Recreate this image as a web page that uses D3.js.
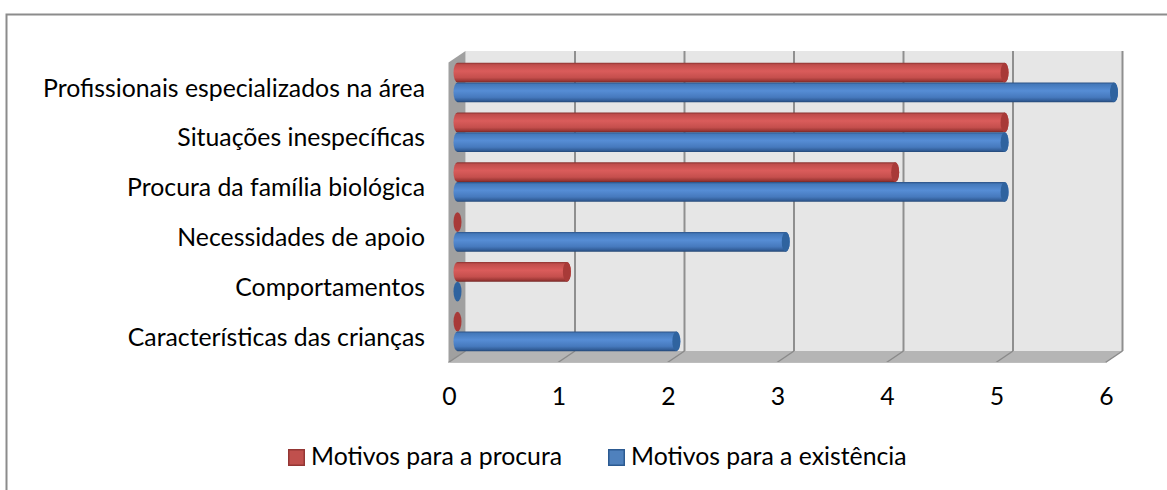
<!DOCTYPE html>
<html>
<head>
<meta charset="utf-8">
<script src="https://cdn.jsdelivr.net/npm/d3@7"></script>
<style>
html, body { margin: 0; padding: 0; background: #fff; }
svg { display: block; }
text { font-family: Lato, "Open Sans", sans-serif; fill: #000; }
</style>
</head>
<body>
<script>
var categories = ["Profissionais especializados na área", "Situações inespecíficas", "Procura da família biológica",
                  "Necessidades de apoio", "Comportamentos", "Características das crianças"];
var procura = [5, 5, 4, 0, 1, 0];
var existencia = [6, 5, 5, 3, 0, 2];
var seriesNames = ["Motivos para a procura", "Motivos para a existência"];
var xTicks = [0, 1, 2, 3, 4, 5, 6];

function init(){
    var w = 1167;
    var h = 490;
    var depthY = 11.5; // 3d drop between back wall and front
    var fontSize = 24.8;

    var svg = d3.select("body").append("svg").attr("width", w).attr("height", h);
    var defs = svg.append("defs");

    // cylinder shading, top to bottom
    function shade(id, stops){
        var g = defs.append("linearGradient").attr("id", id)
            .attr("x1", 0).attr("y1", 0).attr("x2", 0).attr("y2", 1);
        stops.forEach(function(s){
            g.append("stop").attr("offset", s[0]).attr("stop-color", s[1]);
        });
    }
    shade("redBar", [[0, "#8a3230"], [0.1, "#c04d4b"], [0.42, "#da5c5b"], [0.75, "#c54f4d"], [0.92, "#9a3634"], [1, "#742725"]]);
    shade("blueBar", [[0, "#2c5286"], [0.1, "#4479bb"], [0.42, "#568dd5"], [0.75, "#4679bd"], [0.92, "#315c96"], [1, "#234674"]]);

    var x = d3.scaleLinear().domain([0, 6]).range([457.5, 1114]);      // bar ends
    var xBack = d3.scaleLinear().domain([0, 6]).range([465.5, 1122.5]); // back wall
    var xFront = d3.scaleLinear().domain([0, 6]).range([448.5, 1105.5]); // front edge
    var y = d3.scaleBand().domain(categories).range([57.6, 356.4]);
    var inner = d3.scaleBand().domain([0, 1]).range([0, y.bandwidth()]).paddingInner(0).paddingOuter(0.26);

    var backTop = 51, backBottom = 351;

    // chart frame
    svg.append("path")
        .attr("d", "M6.5," + (h + 1) + "V14.5H" + (w + 1))
        .attr("fill", "none").attr("stroke", "#8c8c8c").attr("stroke-width", 2);

    // back wall
    svg.append("rect")
        .attr("x", xBack(0)).attr("y", backTop)
        .attr("width", xBack(6) - xBack(0)).attr("height", backBottom - backTop)
        .attr("fill", "#e6e6e6");

    // left wall
    svg.append("path")
        .attr("d", d3.line()([[xFront(0), backTop + depthY], [xBack(0), backTop], [xBack(0), backBottom], [xFront(0), backBottom + depthY]]))
        .attr("fill", "#a0a0a0");

    // floor
    svg.append("path")
        .attr("d", d3.line()([[xFront(0), backBottom + depthY], [xBack(0), backBottom], [xBack(6), backBottom], [xFront(6), backBottom + depthY]]))
        .attr("fill", "#b5b5b5");

    // gridlines, then the tick that runs down the floor
    svg.selectAll(".grid").data(xTicks.slice(1)).enter().append("line")
        .attr("class", "grid")
        .attr("x1", function(d){ return xBack(d); }).attr("x2", function(d){ return xBack(d); })
        .attr("y1", backTop).attr("y2", backBottom)
        .attr("stroke", "#8f8f8f").attr("stroke-width", 2);

    svg.selectAll(".floorTick").data(xTicks).enter().append("line")
        .attr("class", "floorTick")
        .attr("x1", function(d){ return xFront(d); }).attr("x2", function(d){ return xBack(d); })
        .attr("y1", backBottom + depthY).attr("y2", backBottom)
        .attr("stroke", "#8a8a8a").attr("stroke-width", 1.5);

    // front edge of floor
    svg.append("line")
        .attr("x1", xFront(0)).attr("x2", xFront(6))
        .attr("y1", backBottom + depthY).attr("y2", backBottom + depthY)
        .attr("stroke", "#bdbdbd").attr("stroke-width", 1);

    // bars
    var rows = [];
    categories.forEach(function(c, i){
        rows.push({cat: c, s: 0, value: procura[i]});
        rows.push({cat: c, s: 1, value: existencia[i]});
    });

    var rx = 4;
    var bar = svg.selectAll(".bar").data(rows).enter().append("g").attr("class", "bar")
        .attr("transform", function(d){ return "translate(0," + (y(d.cat) + inner(d.s)) + ")"; });

    bar.filter(function(d){ return d.value > 0; }).append("path")
        .attr("d", function(d){
            var bh = inner.bandwidth(), ry = bh / 2;
            return "M" + x(0) + ",0H" + x(d.value)
                + "A" + rx + "," + ry + " 0 0 1 " + x(d.value) + "," + bh
                + "H" + x(0)
                + "A" + rx + "," + ry + " 0 0 1 " + x(0) + ",0Z";
        })
        .attr("fill", function(d){ return d.s === 0 ? "url(#redBar)" : "url(#blueBar)"; });

    // end cap, also what is left of a zero bar
    bar.append("ellipse")
        .attr("cx", function(d){ return x(d.value); })
        .attr("cy", inner.bandwidth() / 2)
        .attr("rx", rx)
        .attr("ry", inner.bandwidth() / 2)
        .attr("fill", function(d){ return d.s === 0 ? "#a83a38" : "#2f639f"; });

    // category labels
    svg.selectAll(".cat").data(categories).enter().append("text")
        .attr("class", "cat")
        .attr("x", 425)
        .attr("y", function(d){ return y(d) + y.bandwidth() / 2 + 14; })
        .attr("text-anchor", "end")
        .attr("font-size", fontSize)
        .text(function(d){ return d; });

    // value labels
    svg.selectAll(".tickLabel").data(xTicks).enter().append("text")
        .attr("class", "tickLabel")
        .attr("x", function(d){ return xFront(d) + 1; })
        .attr("y", 405)
        .attr("text-anchor", "middle")
        .attr("font-size", fontSize)
        .text(function(d){ return d; });

    // legend
    var legendX = [288, 608];
    var legend = svg.selectAll(".legend").data(seriesNames).enter().append("g")
        .attr("class", "legend")
        .attr("transform", function(d, i){ return "translate(" + legendX[i] + ",449)"; });
    legend.append("rect")
        .attr("x", 0.75).attr("y", 0.75).attr("width", 15.5).attr("height", 15.5)
        .attr("fill", function(d, i){ return i === 0 ? "#c0504d" : "#4f81bd"; })
        .attr("stroke", function(d, i){ return i === 0 ? "#943634" : "#2c5a91"; })
        .attr("stroke-width", 1.5);
    legend.append("text")
        .attr("x", 23).attr("y", 16)
        .attr("font-size", fontSize)
        .text(function(d){ return d; });
}
window.onload = init;
</script>
</body>
</html>
